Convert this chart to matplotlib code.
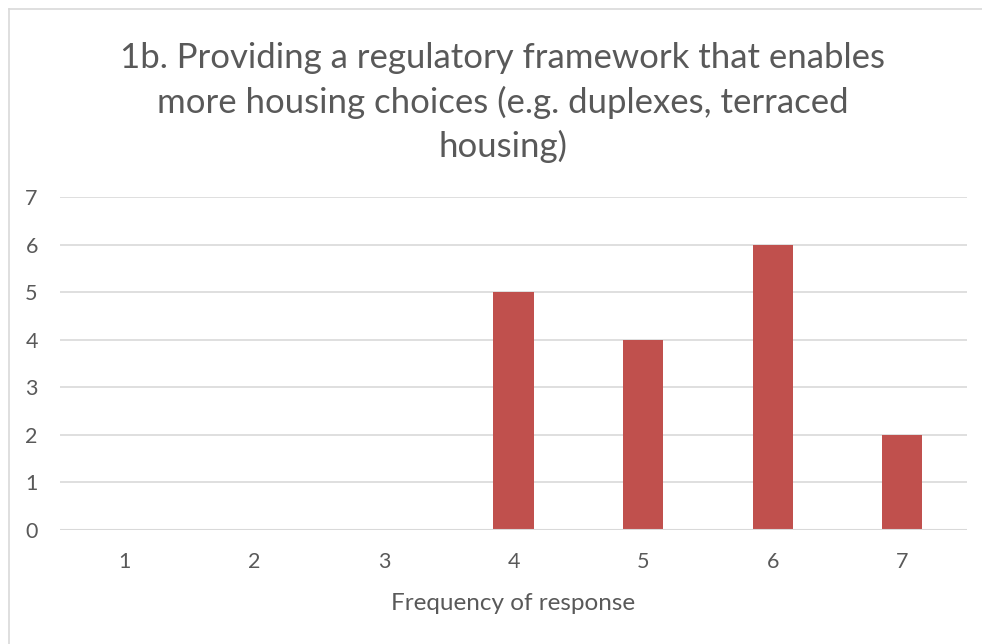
import matplotlib
matplotlib.use("Agg")
import matplotlib.pyplot as plt
from matplotlib.lines import Line2D

# --- data ---
categories = ["1", "2", "3", "4", "5", "6", "7"]
counts = [0, 0, 0, 5, 4, 6, 2]
title = ("1b. Providing a regulatory framework that enables\n"
         "more housing choices (e.g. duplexes, terraced\n"
         "housing)")
xlabel = "Frequency of response"

text_col = "#595959"
grid_col = "#d9d9d9"
bar_col = "#c0504d"

plt.rcParams['font.family'] = ['Lato', 'DejaVu Sans']

fig = plt.figure(figsize=(9.82, 6.44), dpi=100)
ax = fig.add_axes([60 / 982, 114 / 644, 907 / 982, 333 / 644])

x = range(len(categories))
ax.bar(x, counts, width=0.31, color=bar_col, zorder=3)

ax.set_xlim(-0.5, len(categories) - 0.5)
ax.set_ylim(0, 7)
ax.set_yticks(range(0, 8))
ax.set_xticks(list(x))
ax.set_xticklabels(categories)
ax.tick_params(axis='both', length=0, labelsize=15.5, colors=text_col)
ax.tick_params(axis='x', pad=16)
ax.tick_params(axis='y', pad=16)
ax.yaxis.grid(True, color=grid_col, linewidth=1.2, zorder=0)
for s in ax.spines.values():
    s.set_visible(False)
ax.axhline(0, color=grid_col, linewidth=1.5, zorder=4)

ax.set_xlabel(xlabel, fontsize=17.5, color=text_col, labelpad=15)

fig.text(503 / 982, 1 - 42 / 644, title, ha='center', va='top',
         fontsize=25, color=text_col, linespacing=1.42)

# chart border (left and top edges visible)
fig.add_artist(Line2D([8.5 / 982, 8.5 / 982], [0, 1 - 8.5 / 644],
                      transform=fig.transFigure, color="#d9d9d9", lw=1.2))
fig.add_artist(Line2D([8.5 / 982, 1], [1 - 8.5 / 644, 1 - 8.5 / 644],
                      transform=fig.transFigure, color="#d9d9d9", lw=1.2))

fig.savefig("out.png", dpi=100)
